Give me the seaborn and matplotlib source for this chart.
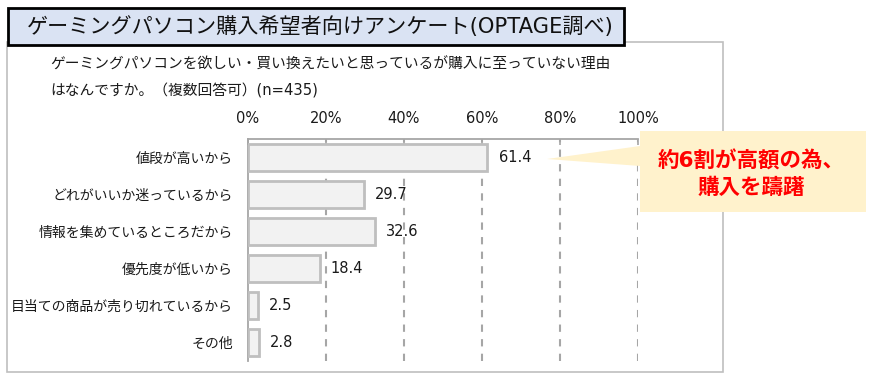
import matplotlib
import matplotlib.pyplot as plt
import seaborn as sns
from matplotlib.patches import Polygon, Rectangle

matplotlib.use("Agg")

W, H = 876, 383

title = "ゲーミングパソコン購入希望者向けアンケート(OPTAGE調べ)"
question = ["ゲーミングパソコンを欲しい・買い換えたいと思っているが購入に至っていない理由",
            "はなんですか。（複数回答可）(n=435)"]
categories = ["値段が高いから", "どれがいいか迷っているから", "情報を集めているところだから",
              "優先度が低いから", "目当ての商品が売り切れているから", "その他"]
values = [61.4, 29.7, 32.6, 18.4, 2.5, 2.8]
xticks = [0, 20, 40, 60, 80, 100]
callout = "約6割が高額の為、\n購入を躊躇"

sns.set_theme(style="white")
# Latin glyphs from DejaVu (wider, closer to the original), Japanese from Noto CJK
plt.rcParams["font.family"] = ["DejaVu Sans", "Noto Sans CJK JP"]


def px(x, y):
    # pixel position -> figure fraction
    return (x / W, 1 - y / H)


fig = plt.figure(figsize=(W / 100, H / 100), dpi=100)

# outer frame and title box
x0, y0 = px(7, 372)
x1, y1 = px(723, 42)
fig.add_artist(Rectangle((x0, y0), x1 - x0, y1 - y0, transform=fig.transFigure,
                         fill=False, edgecolor="#BFBFBF", lw=1.2, zorder=0))
x0, y0 = px(8, 45)
x1, y1 = px(624, 8)
fig.add_artist(Rectangle((x0, y0), x1 - x0, y1 - y0, transform=fig.transFigure,
                         facecolor="#DAE3F3", edgecolor="black", lw=2, zorder=1))
fig.text(*px(27, 27), title, fontsize=15.2, va="center", ha="left", color="#111111")
fig.text(*px(50, 64), question[0], fontsize=10.6, va="center", ha="left", color="#1a1a1a")
fig.text(*px(50, 91), question[1], fontsize=10.6, va="center", ha="left", color="#1a1a1a")

left, top = px(248, 139)
right, bottom = px(638, 361)
ax = fig.add_axes([left, bottom, right - left, top - bottom])

sns.barplot(x=values, y=categories, orient="h", color="#F2F2F2", edgecolor="#BFBFBF",
            linewidth=2, width=0.74, saturation=1, ax=ax, zorder=3)
ax.bar_label(ax.containers[0], labels=[f"{v:.1f}" for v in values], padding=8,
             fontsize=10.5, color="#1a1a1a")

ax.set_xlim(0, 100)
ax.set_ylim(len(categories) - 0.5, -0.5)
ax.set_xticks(xticks)
ax.set_xticklabels([f"{t}%" for t in xticks])
ax.xaxis.tick_top()
ax.tick_params(axis="x", direction="in", length=4, color="#A6A6A6", width=1.2,
               labelsize=10.5, pad=9.5, labelcolor="#1a1a1a")
ax.tick_params(axis="y", which="major", length=0, labelsize=10, pad=11,
               labelcolor="#1a1a1a")
ax.set_yticks([i + 0.5 for i in range(-1, len(categories))], minor=True)
ax.tick_params(axis="y", which="minor", direction="in", length=4, color="#A6A6A6", width=1.2)
ax.set_xlabel("")
ax.set_ylabel("")

for t in xticks[1:]:
    ax.axvline(t, color="#A6A6A6", lw=1.5, ls=(0, (3.5, 3.5)), zorder=1)

for side in ["right", "bottom"]:
    ax.spines[side].set_visible(False)
for side in ["left", "top"]:
    ax.spines[side].set_color("#A6A6A6")
    ax.spines[side].set_linewidth(1.3)

# callout box with pointer
pts = [px(640, 131), px(866, 131), px(866, 212), px(640, 212), px(640, 166),
       px(547, 159), px(640, 146)]
fig.add_artist(Polygon(pts, closed=True, transform=fig.transFigure,
                       facecolor="#FFF2CC", edgecolor="none", zorder=5))
fig.text(*px(751, 174), callout, fontsize=15.5, fontweight="bold", color="#FF0000",
         ha="center", va="center", linespacing=1.35, zorder=6)

fig.savefig("out.png", dpi=100)
